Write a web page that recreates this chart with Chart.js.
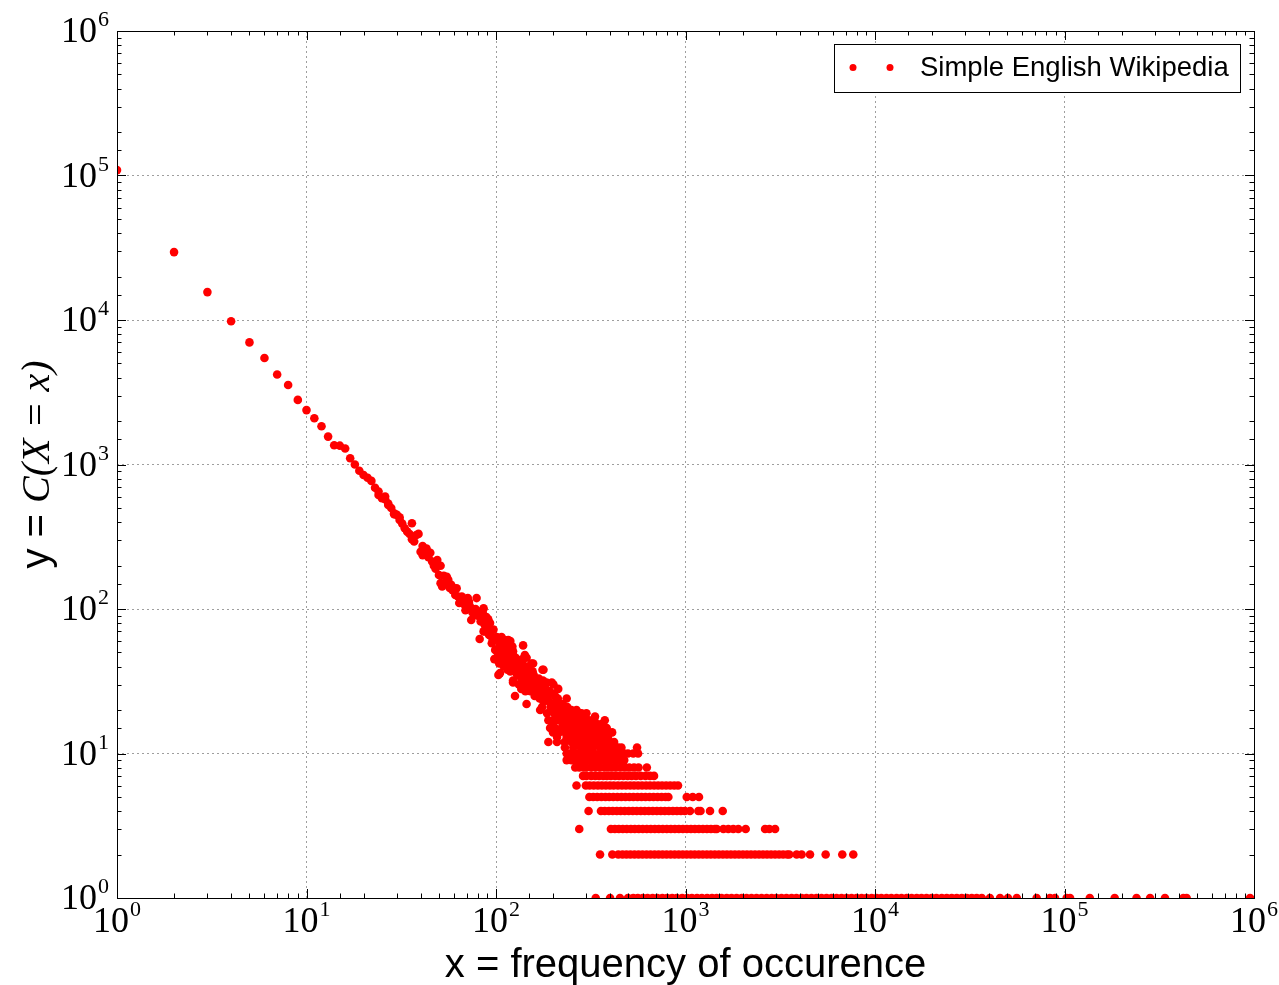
<!DOCTYPE html>
<html>
<head>
<meta charset="utf-8">
<title>Simple English Wikipedia - word frequencies</title>
<script src="https://cdn.jsdelivr.net/npm/chart.js@4.4.1/dist/chart.umd.min.js"></script>
<style>
  html, body { margin: 0; padding: 0; background: #fff; }
  #chart { display: block; }
</style>
</head>
<body>
<canvas id="chart" width="1279" height="985"></canvas>
<script>
// number of words (y) that occur exactly x times, for x = 1..21
const headCounts = [109000, 29500, 15600, 9800, 7000, 5460, 4200, 3550, 2800, 2380,
  2090, 1840, 1560, 1360, 1350, 1290, 1105, 1000, 905, 845, 810];

// the noisy part of the curve, [x, y]
const cloudPoints = [
  [22, 770], [23, 690], [24, 650], [24, 615], [25, 585], [26, 600], [26, 575], [27, 537],
  [27, 525], [28, 500], [29, 460], [29, 452], [30, 448], [31, 431], [31, 413], [32, 390],
  [33, 362], [34, 343], [35, 330], [36, 392], [36, 304], [37, 293], [38, 325], [39, 331],
  [40, 249], [41, 273], [41, 236], [42, 249], [43, 262], [44, 228], [45, 245], [46, 213],
  [47, 199], [48, 190], [49, 218], [50, 172], [51, 199], [51, 151], [52, 143], [53, 170],
  [54, 151], [55, 167], [56, 159], [57, 140], [58, 147], [59, 135], [60, 139], [61, 125],
  [62, 139], [63, 122], [64, 110], [65, 115], [66, 122], [67, 119], [68, 108], [69, 98],
  [70, 100], [71, 119], [72, 112], [73, 104], [74, 84], [75, 95], [76, 98], [77, 92],
  [78, 100], [79, 119], [80, 90], [81, 96], [82, 62], [83, 82], [84, 84], [85, 95],
  [86, 101], [86, 70], [87, 78], [88, 70], [89, 88], [90, 76], [91, 85], [92, 66],
  [93, 80], [93, 66], [94, 70], [95, 58], [96, 62], [97, 72], [97, 61], [98, 45],
  [99, 52], [100, 45], [101, 64], [102, 50], [103, 35], [104, 55], [104, 42], [105, 59],
  [105, 36], [106, 48], [107, 64], [108, 44], [108, 56], [109, 53], [110, 40], [110, 50],
  [111, 61], [111, 52], [112, 49], [113, 55], [114, 47], [114, 42], [115, 38], [116, 61],
  [116, 41], [117, 50], [118, 45], [119, 60], [119, 37], [120, 43], [121, 46], [122, 55],
  [123, 48], [123, 51], [123, 32], [123, 31], [124, 42], [125, 40], [126, 37], [126, 25],
  [127, 46], [128, 36], [129, 40], [130, 35], [130, 44], [131, 43], [132, 30], [133, 39],
  [134, 44], [135, 38], [136, 28], [136, 33], [137, 34], [138, 45], [139, 56], [139, 41],
  [139, 38], [140, 32], [141, 36], [142, 48], [143, 27], [144, 30], [145, 46], [145, 22],
  [146, 35], [147, 40], [148, 33], [149, 38], [150, 29], [151, 36], [152, 27], [153, 30],
  [154, 42], [155, 31], [156, 37], [157, 42], [157, 27], [158, 35], [159, 29], [160, 25],
  [161, 33], [162, 29], [163, 26], [164, 32], [165, 28], [166, 30], [168, 33], [169, 27],
  [170, 24], [171, 20], [172, 29], [174, 25], [175, 21], [176, 38], [177, 32], [178, 38],
  [178, 29], [178, 23], [180, 24], [182, 26], [183, 28], [185, 31], [186, 19], [187, 24],
  [190, 23], [192, 27], [194, 21], [197, 31], [198, 20], [199, 26], [201, 30], [201, 22],
  [203, 19], [205, 25], [207, 23], [210, 21], [212, 24], [213, 28], [213, 18], [216, 21],
  [218, 19], [220, 18], [222, 20], [225, 22], [228, 20], [232, 18], [236, 24], [238, 21],
  [240, 19], [245, 18], [250, 20], [255, 19], [260, 18], [266, 20], [272, 18], [277, 19],
  [283, 19], [290, 18], [300, 19], [333, 18]
];

// small counts line up in horizontal stripes: one list of x per count
const stripeLevels = [1, 2, 3, 4, 5, 6, 7, 8, 9, 10, 11, 12, 13, 14, 15, 16, 17];
const stripeXs = [
  [336, 400, 451, 497, 530, 560, 595, 630, 670, 710, 755, 800, 850, 900, 960, 1020, 1080,
    1150, 1220, 1300, 1380, 1460, 1550, 1650, 1750, 1860, 1980, 2100, 2230, 2370, 2520,
    2680, 2850, 3020, 3210, 3410, 3630, 3850, 4100, 4350, 4620, 4910, 5220, 5550, 5900,
    6270, 6660, 7080, 7520, 8000, 8500, 9030, 9600, 10200, 10800, 11500, 12200, 13000,
    13800, 14700, 15600, 16600, 17600, 18700, 19900, 21100, 22500, 23900, 25400, 27000,
    28700, 30500, 32400, 34400, 36600, 40400, 45700, 50300, 56000, 71300, 83800, 89100,
    102700, 107000, 136000, 184000, 240000, 283000, 339000, 424000, 441000, 953000],
  [354, 411, 442, 465, 488, 512, 538, 565, 593, 623, 654, 687, 721, 757, 795, 835, 877,
    921, 967, 1015, 1066, 1119, 1175, 1234, 1296, 1360, 1428, 1500, 1575, 1654, 1736,
    1823, 1914, 2010, 2110, 2216, 2327, 2443, 2565, 2693, 2828, 2969, 3118, 3274, 3438,
    3530, 3860, 4100, 4540, 5490, 6720, 7680],
  [275, 404, 424, 445, 467, 490, 515, 540, 567, 595, 625, 656, 689, 723, 759, 797, 837,
    879, 923, 969, 1017, 1068, 1121, 1177, 1236, 1298, 1362, 1430, 1462, 1585, 1683, 1787,
    1900, 2078, 2630, 2770, 2970],
  [308, 358, 375, 394, 413, 434, 455, 478, 502, 527, 553, 581, 610, 640, 672, 706, 741,
    778, 817, 858, 901, 946, 993, 1056, 1169, 1200, 1347, 1572],
  [311, 326, 342, 360, 378, 396, 416, 437, 459, 482, 506, 531, 558, 586, 615, 646, 678,
    712, 748, 785, 812, 1015, 1092, 1178],
  [266, 298, 312, 328, 345, 362, 380, 399, 418, 440, 462, 485, 510, 535, 562, 590, 620,
    650, 683, 717, 752, 790, 830, 872, 913],
  [288, 300, 318, 334, 350, 368, 385, 404, 425, 446, 470, 495, 520, 548, 580, 615, 650, 682],
  [262, 275, 290, 300, 318, 335, 354, 375, 392, 410, 430, 455, 480, 505, 535, 565, 625],
  [236, 250, 265, 277, 292, 305, 322, 340, 360, 380, 400, 425, 450, 475],
  [236, 246, 255, 268, 280, 288, 300, 313, 330, 354, 378, 400, 425, 451, 475, 497, 530, 562],
  [231, 256, 280, 301, 325, 354, 378, 400, 420, 442, 459, 555],
  [189, 210, 230, 250, 265, 277, 290, 300, 310, 320, 330, 340, 350, 360, 380, 396, 420],
  [210, 236, 250, 262, 277, 285, 295, 305, 313, 325, 335, 345, 354, 365, 372, 390],
  [200, 215, 232, 245, 252, 265, 280, 290, 305, 312, 320, 330, 345, 360, 385, 410],
  [193, 205, 222, 235, 243, 255, 267, 280, 290, 301, 320, 335, 350, 365, 384],
  [200, 225, 235, 246, 258, 270, 285, 295, 310, 325, 340, 360],
  [189, 200, 215, 230, 240, 258, 270, 282, 295, 310, 330, 375]
];

const tickExponents = [0, 1, 2, 3, 4, 5, 6];
const seriesLabel = "Simple English Wikipedia";
const xTitle = "x = frequency of occurence";
const yTitlePlain = "y = ";
const yTitleMath = "C(X = x)";

const RED = "#ff0000";
const SERIF = "'Liberation Serif', 'DejaVu Serif', serif";
const SANS = "'Liberation Sans', Arial, sans-serif";

/**
 * True when v is an exact power of ten.
 */
function isDecade(v) {
  const l = Math.log10(v);
  return Math.abs(l - Math.round(l)) < 1e-6;
}

function gridColor(ctx) {
  if (!ctx.tick || !isDecade(ctx.tick.value)) return "rgba(0,0,0,0)";
  return "rgba(0,0,0,0.38)";
}

/**
 * Draws "10" with a raised exponent.
 */
function drawPowerLabel(ctx, exponent, x, baseline, align) {
  ctx.font = "36px " + SERIF;
  const wBase = ctx.measureText("10").width;
  ctx.font = "22px " + SERIF;
  const wExp = ctx.measureText(String(exponent)).width;
  const total = wBase + 1 + wExp;
  const left = align === "center" ? x - total / 2 : x - total;
  ctx.textAlign = "left";
  ctx.textBaseline = "alphabetic";
  ctx.font = "36px " + SERIF;
  ctx.fillText("10", left, baseline);
  ctx.font = "22px " + SERIF;
  ctx.fillText(String(exponent), left + wBase + 1, baseline - 16);
}

// frame, inward ticks on all four sides and the decade labels
const axesPlugin = {
  id: "axesFrame",
  afterDatasetsDraw(chart) {
    const { ctx, chartArea: a, scales } = chart;
    ctx.save();
    ctx.strokeStyle = "#000";
    ctx.lineWidth = 1;
    ctx.beginPath();
    scales.x.ticks.forEach((t) => {
      const px = Math.round(scales.x.getPixelForValue(t.value)) + 0.5;
      const len = isDecade(t.value) ? 9 : 4.5;
      ctx.moveTo(px, a.bottom);
      ctx.lineTo(px, a.bottom - len);
      ctx.moveTo(px, a.top);
      ctx.lineTo(px, a.top + len);
    });
    scales.y.ticks.forEach((t) => {
      const py = Math.round(scales.y.getPixelForValue(t.value)) + 0.5;
      const len = isDecade(t.value) ? 9 : 4.5;
      ctx.moveTo(a.left, py);
      ctx.lineTo(a.left + len, py);
      ctx.moveTo(a.right, py);
      ctx.lineTo(a.right - len, py);
    });
    ctx.stroke();
    ctx.strokeRect(Math.round(a.left) + 0.5, Math.round(a.top) + 0.5,
      Math.round(a.width), Math.round(a.height));

    ctx.fillStyle = "#000";
    tickExponents.forEach((e) => {
      const px = scales.x.getPixelForValue(Math.pow(10, e));
      drawPowerLabel(ctx, e, px, a.bottom + 34, "center");
      const py = scales.y.getPixelForValue(Math.pow(10, e));
      drawPowerLabel(ctx, e, a.left - 8, py + 11, "right");
    });

    // axis titles
    ctx.font = "40px " + SANS;
    ctx.textAlign = "center";
    ctx.fillText(xTitle, (a.left + a.right) / 2, a.bottom + 79);

    ctx.translate(37, (a.top + a.bottom) / 2);
    ctx.rotate(-Math.PI / 2);
    ctx.textAlign = "left";
    ctx.font = "40px " + SANS;
    const w1 = ctx.measureText(yTitlePlain).width;
    ctx.font = "italic 40px " + SERIF;
    const w2 = ctx.measureText(yTitleMath).width;
    const start = -(w1 + w2) / 2;
    ctx.font = "40px " + SANS;
    ctx.fillText(yTitlePlain, start, 12);
    ctx.font = "italic 40px " + SERIF;
    ctx.fillText(yTitleMath, start + w1, 12);
    ctx.restore();
  }
};

// matplotlib style legend: two markers and the label inside a box
const legendPlugin = {
  id: "boxLegend",
  afterDraw(chart) {
    const { ctx } = chart;
    const ds = chart.data.datasets[0];
    ctx.save();
    ctx.fillStyle = "#fff";
    ctx.fillRect(834, 44, 407, 49);
    ctx.strokeStyle = "#000";
    ctx.lineWidth = 1;
    ctx.strokeRect(834.5, 44.5, 406, 48);
    ctx.fillStyle = ds.pointBackgroundColor;
    [853, 890].forEach((cx) => {
      ctx.beginPath();
      ctx.arc(cx, 67.5, 3.5, 0, Math.PI * 2);
      ctx.fill();
    });
    ctx.fillStyle = "#000";
    ctx.font = "27.5px " + SANS;
    ctx.textAlign = "left";
    ctx.textBaseline = "middle";
    ctx.fillText(ds.label, 920, 68);
    ctx.restore();
  }
};

document.addEventListener("DOMContentLoaded", function () {
  const points = [];
  headCounts.forEach((y, i) => points.push({ x: i + 1, y: y }));
  cloudPoints.forEach(([x, y]) => points.push({ x: x, y: y }));
  stripeLevels.forEach((y, i) => {
    stripeXs[i].forEach((x) => points.push({ x: x, y: y }));
  });

  const logAxis = {
    type: "logarithmic",
    min: 1,
    max: 1e6,
    ticks: { display: false, autoSkip: false },
    grid: { color: gridColor, lineWidth: 1, drawTicks: false },
    border: { display: false, dash: [2, 3] },
    title: { display: false }
  };

  new Chart(document.getElementById("chart"), {
    type: "scatter",
    data: {
      datasets: [
        {
          label: seriesLabel,
          data: points,
          pointRadius: 4.3,
          pointHoverRadius: 4.3,
          pointBorderWidth: 0,
          pointBackgroundColor: RED,
          backgroundColor: RED,
          borderColor: RED
        }
      ]
    },
    options: {
      responsive: false,
      animation: false,
      devicePixelRatio: 1,
      layout: { padding: { top: 31, right: 25, left: 0, bottom: 0 } },
      plugins: { legend: { display: false }, tooltip: { enabled: false } },
      scales: {
        x: Object.assign({}, logAxis, {
          afterFit(scale) {
            scale.height = 87;
            scale.paddingLeft = 0;
            scale.paddingRight = 0;
          }
        }),
        y: Object.assign({}, logAxis, {
          afterFit(scale) {
            scale.width = 117;
            scale.paddingTop = 0;
            scale.paddingBottom = 0;
          }
        })
      }
    },
    plugins: [axesPlugin, legendPlugin]
  });
});
</script>
</body>
</html>
